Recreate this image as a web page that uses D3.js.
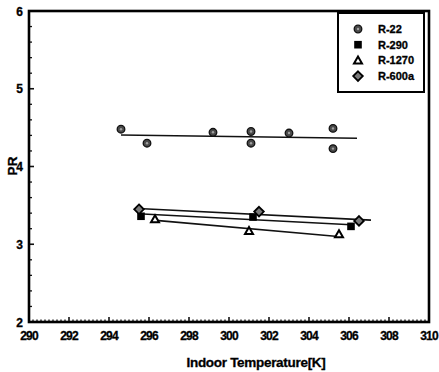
<!DOCTYPE html>
<html>
<head>
<meta charset="utf-8">
<script src="https://cdn.jsdelivr.net/npm/d3@7"></script>
<style>
  body { margin: 0; background: #fff; }
  svg text { font-family: "Liberation Sans", Arial, sans-serif; font-weight: bold; fill: #000; stroke: #000; stroke-width: 0.3px; }
</style>
</head>
<body>
<div id="chart"></div>
<script>
"use strict";

// measured points (K, PR)
let r22X = [294.6, 295.9, 299.2, 301.1, 301.1, 303.0, 305.2, 305.2];
let r22Y = [4.48, 4.30, 4.44, 4.45, 4.30, 4.43, 4.49, 4.23];
let r290X = [295.6, 301.2, 306.1];
let r290Y = [3.36, 3.35, 3.23];
let r1270X = [296.3, 301.0, 305.5];
let r1270Y = [3.32, 3.17, 3.13];
let r600aX = [295.5, 301.5, 306.5];
let r600aY = [3.45, 3.42, 3.30];

// fitted lines, two end points each
let r22FitX = [294.6, 306.4];
let r22FitY = [4.405, 4.363];
let r290FitX = [295.7, 306.1];
let r290FitY = [3.39, 3.25];
let r1270FitX = [296.2, 305.45];
let r1270FitY = [3.31, 3.10];
let r600aFitX = [295.45, 307.1];
let r600aFitY = [3.46, 3.31];

let legendNames = ["R-22", "R-290", "R-1270", "R-600a"];
let xTicks = [290, 292, 294, 296, 298, 300, 302, 304, 306, 308, 310];
let yTicks = [2, 3, 4, 5, 6];

let width = 439, height = 372;
let margin = { top: 11, right: 10, bottom: 50, left: 29 };

let svg = d3.select("#chart").append("svg")
  .attr("width", width)
  .attr("height", height);

let x = d3.scaleLinear().domain([290, 310]).range([margin.left, width - margin.right]);
let y = d3.scaleLinear().domain([2, 6]).range([height - margin.bottom, margin.top]);

// minor ticks
let xMinor = d3.range(290, 310.001, 0.2).filter(v => Math.abs(v / 2 - Math.round(v / 2)) > 0.01);
let yMinor = d3.range(2, 6.001, 0.2).filter(v => Math.abs(v - Math.round(v)) > 0.01);

let ax = svg.append("g").attr("class", "axes");
ax.selectAll("line.xminor").data(xMinor).enter().append("line")
  .attr("x1", d => x(d)).attr("x2", d => x(d))
  .attr("y1", y(2)).attr("y2", y(2) - 2.5)
  .attr("stroke", "#111").attr("stroke-width", 1.3);
ax.selectAll("line.xmajor").data(xTicks).enter().append("line")
  .attr("x1", d => x(d)).attr("x2", d => x(d))
  .attr("y1", y(2)).attr("y2", y(2) - 5)
  .attr("stroke", "#111").attr("stroke-width", 1.6);
ax.selectAll("line.yminor").data(yMinor).enter().append("line")
  .attr("x1", x(290)).attr("x2", x(290) + 3)
  .attr("y1", d => y(d)).attr("y2", d => y(d))
  .attr("stroke", "#111").attr("stroke-width", 1.3);
ax.selectAll("line.ymajor").data(yTicks).enter().append("line")
  .attr("x1", x(290)).attr("x2", x(290) + 5)
  .attr("y1", d => y(d)).attr("y2", d => y(d))
  .attr("stroke", "#111").attr("stroke-width", 1.6);

// frame
ax.append("rect")
  .attr("x", x(290)).attr("y", y(6))
  .attr("width", x(310) - x(290)).attr("height", y(2) - y(6))
  .attr("fill", "none").attr("stroke", "#000").attr("stroke-width", 2.6);

// tick labels
ax.selectAll("text.xl").data(xTicks).enter().append("text")
  .attr("x", d => x(d)).attr("y", y(2) + 18)
  .attr("text-anchor", "middle")
  .style("font-size", "12px").style("letter-spacing", "-0.9px")
  .text(d => d);
ax.selectAll("text.yl").data(yTicks).enter().append("text")
  .attr("x", x(290) - 6).attr("y", d => y(d) + 4.5)
  .attr("text-anchor", "end")
  .style("font-size", "12px")
  .text(d => d);

svg.append("text")
  .attr("x", (x(290) + x(310)) / 2 + 27).attr("y", 367)
  .attr("text-anchor", "middle")
  .style("font-size", "13.5px").style("letter-spacing", "-0.3px")
  .text("Indoor Temperature[K]");
svg.append("text")
  .attr("transform", "translate(17," + 166 + ") rotate(-90)")
  .attr("text-anchor", "middle")
  .style("font-size", "13.5px")
  .text("PR");

// fit lines
let line = d3.line().x(d => x(d[0])).y(d => y(d[1]));
let fits = [
  [r22FitX, r22FitY], [r290FitX, r290FitY], [r1270FitX, r1270FitY], [r600aFitX, r600aFitY]
];
svg.selectAll("path.fit").data(fits).enter().append("path")
  .attr("class", "fit")
  .attr("d", f => line(d3.zip(f[0], f[1])))
  .attr("fill", "none").attr("stroke", "#111").attr("stroke-width", 1.6);

// markers
function drawMarker(g, type, cx, cy) {
  if (type === 0) {
    g.append("circle").attr("cx", cx).attr("cy", cy).attr("r", 3.8)
      .attr("fill", "#4a4a4a").attr("stroke", "#111").attr("stroke-width", 1.3);
    g.append("circle").attr("cx", cx).attr("cy", cy).attr("r", 1.2).attr("fill", "#a0a0a0");
  } else if (type === 1) {
    g.append("rect").attr("x", cx - 3.8).attr("y", cy - 3.8).attr("width", 7.6).attr("height", 7.6)
      .attr("fill", "#000");
  } else if (type === 2) {
    g.append("path")
      .attr("d", "M" + cx + "," + (cy - 4) + "L" + (cx + 4) + "," + (cy + 3) + "L" + (cx - 4) + "," + (cy + 3) + "Z")
      .attr("fill", "#fff").attr("stroke", "#000").attr("stroke-width", 2);
  } else {
    g.append("path")
      .attr("d", "M" + cx + "," + (cy - 4.8) + "L" + (cx + 4.8) + "," + cy + "L" + cx + "," + (cy + 4.8) + "L" + (cx - 4.8) + "," + cy + "Z")
      .attr("fill", "#7a7a7a").attr("stroke", "#000").attr("stroke-width", 1.8);
  }
}

let series = [[r22X, r22Y], [r290X, r290Y], [r1270X, r1270Y], [r600aX, r600aY]];
let marks = svg.append("g");
series.forEach((s, k) => {
  s[0].forEach((v, i) => drawMarker(marks, k, x(v), y(s[1][i])));
});

// legend
let lg = svg.append("g");
lg.append("rect").attr("x", 338).attr("y", 13).attr("width", 86).attr("height", 79)
  .attr("fill", "#fff").attr("stroke", "#000").attr("stroke-width", 2);
legendNames.forEach((n, i) => {
  let cy = 29 + i * 15.7;
  drawMarker(lg, i, 358, cy);
  lg.append("text").attr("x", 378).attr("y", cy + 4)
    .style("font-size", "11px").text(n);
});
</script>
</body>
</html>
